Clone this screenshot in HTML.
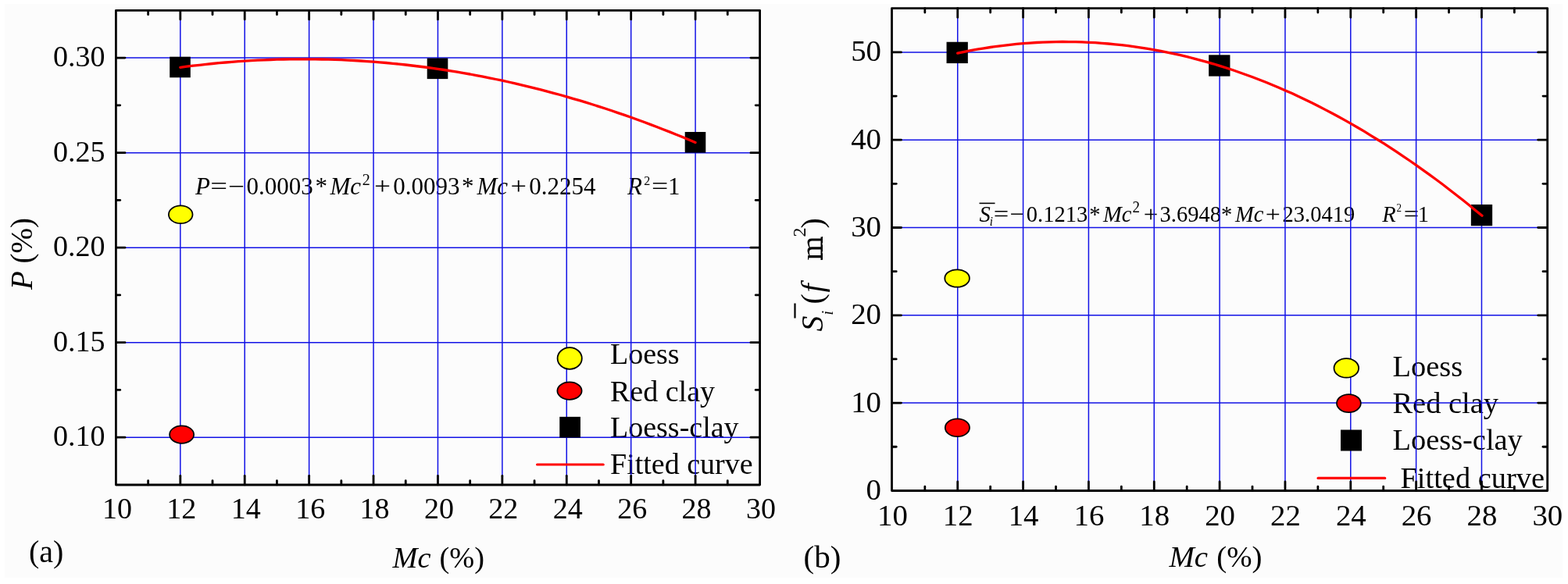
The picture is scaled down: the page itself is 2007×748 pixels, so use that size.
<!DOCTYPE html>
<html><head><meta charset="utf-8"><title>Mc vs P and Si</title>
<style>html,body{margin:0;padding:0;background:#fdfdfd;}svg{display:block;}</style></head>
<body><svg width="2007" height="748" viewBox="0 0 2007 748" font-family="'Liberation Serif','Times New Roman',serif" fill="#000">
<rect width="2007" height="748" fill="#ffffff"/>
<rect x="6" y="5" width="1994" height="735" fill="#fcfcfc"/>
<text x="249.90" y="249" font-size="31" font-style="italic">P</text>
<text x="269.21" y="249" font-size="31" textLength="21.79" lengthAdjust="spacingAndGlyphs">=</text>
<text x="292.00" y="249" font-size="31" textLength="20.98" lengthAdjust="spacingAndGlyphs">&#8722;</text>
<text x="315.40" y="249" font-size="31">0.0003</text>
<text x="403.40" y="249" font-size="31">*</text>
<text x="422.50" y="249" font-size="31" font-style="italic">Mc</text>
<text x="463.80" y="237" font-size="20">2</text>
<text x="479.10" y="249" font-size="31" textLength="20.98" lengthAdjust="spacingAndGlyphs">+</text>
<text x="503.30" y="249" font-size="31">0.0093</text>
<text x="590.90" y="249" font-size="31">*</text>
<text x="610.40" y="249" font-size="31" font-style="italic">Mc</text>
<text x="653.56" y="249" font-size="31" textLength="20.44" lengthAdjust="spacingAndGlyphs">+</text>
<text x="677.30" y="249" font-size="31">0.2254</text>
<text x="803.10" y="249" font-size="31" font-style="italic">R</text>
<text x="824.30" y="237" font-size="16">2</text>
<text x="834.07" y="249" font-size="31" textLength="21.25" lengthAdjust="spacingAndGlyphs">=</text>
<text x="854.90" y="249" font-size="31">1</text>
<text x="781" y="466.3" font-size="38">Loess</text>
<text x="781" y="513.9" font-size="38">Red clay</text>
<text x="781" y="560.2" font-size="38">Loess-clay</text>
<text x="781" y="607" font-size="38">Fitted curve</text>
<line x1="230.81" y1="13.34" x2="230.81" y2="620.96" stroke="#1212e6" stroke-width="1.5"/>
<line x1="313.22" y1="13.34" x2="313.22" y2="620.96" stroke="#1212e6" stroke-width="1.5"/>
<line x1="395.63" y1="13.34" x2="395.63" y2="620.96" stroke="#1212e6" stroke-width="1.5"/>
<line x1="478.04" y1="13.34" x2="478.04" y2="620.96" stroke="#1212e6" stroke-width="1.5"/>
<line x1="560.45" y1="13.34" x2="560.45" y2="620.96" stroke="#1212e6" stroke-width="1.5"/>
<line x1="642.86" y1="13.34" x2="642.86" y2="620.96" stroke="#1212e6" stroke-width="1.5"/>
<line x1="725.27" y1="13.34" x2="725.27" y2="620.96" stroke="#1212e6" stroke-width="1.5"/>
<line x1="807.68" y1="13.34" x2="807.68" y2="620.96" stroke="#1212e6" stroke-width="1.5"/>
<line x1="890.09" y1="13.34" x2="890.09" y2="620.96" stroke="#1212e6" stroke-width="1.5"/>
<line x1="148.4" y1="560.2" x2="972.5" y2="560.2" stroke="#1212e6" stroke-width="1.5"/>
<line x1="148.4" y1="438.67" x2="972.5" y2="438.67" stroke="#1212e6" stroke-width="1.5"/>
<line x1="148.4" y1="317.15" x2="972.5" y2="317.15" stroke="#1212e6" stroke-width="1.5"/>
<line x1="148.4" y1="195.63" x2="972.5" y2="195.63" stroke="#1212e6" stroke-width="1.5"/>
<line x1="148.4" y1="74.1" x2="972.5" y2="74.1" stroke="#1212e6" stroke-width="1.5"/>
<ellipse cx="231.2" cy="274.8" rx="15.3" ry="11.4" fill="#ffff00" stroke="#000" stroke-width="1.8"/>
<ellipse cx="232.6" cy="556.6" rx="15.5" ry="11.3" fill="#ff0000" stroke="#000" stroke-width="1.8"/>
<ellipse cx="729.2" cy="459" rx="15.6" ry="13.8" fill="#ffff00" stroke="#000" stroke-width="1.8"/>
<ellipse cx="729" cy="500.6" rx="15.6" ry="11.2" fill="#ff0000" stroke="#000" stroke-width="1.8"/>
<rect x="217.2" y="72.7" width="26.6" height="26.6" fill="#000"/>
<rect x="546.7" y="74.5" width="26.6" height="26.6" fill="#000"/>
<rect x="876.7" y="169" width="26.6" height="26.6" fill="#000"/>
<rect x="716.25" y="533.85" width="26.7" height="26.7" fill="#000"/>
<line x1="687.6" y1="595" x2="772.2" y2="595" stroke="#f00" stroke-width="3.2" stroke-linecap="round"/>
<polyline points="230.8,86.3 239.0,85.2 247.3,84.2 255.5,83.3 263.8,82.4 272.0,81.5 280.2,80.7 288.5,80.0 296.7,79.3 305.0,78.7 313.2,78.2 321.4,77.7 329.7,77.2 337.9,76.8 346.2,76.5 354.4,76.2 362.6,76.0 370.9,75.9 379.1,75.8 387.4,75.8 395.6,75.8 403.8,75.9 412.1,76.0 420.3,76.2 428.6,76.4 436.8,76.7 445.0,77.1 453.3,77.5 461.5,78.0 469.8,78.6 478.0,79.2 486.2,79.8 494.5,80.5 502.7,81.3 511.0,82.1 519.2,83.0 527.4,84.0 535.7,85.0 543.9,86.0 552.2,87.1 560.4,88.3 568.6,89.5 576.9,90.8 585.1,92.2 593.4,93.6 601.6,95.0 609.8,96.6 618.1,98.1 626.3,99.8 634.6,101.5 642.8,103.2 651.0,105.0 659.3,106.9 667.5,108.8 675.8,110.8 684.0,112.8 692.2,114.9 700.5,117.1 708.7,119.3 717.0,121.5 725.2,123.9 733.4,126.3 741.7,128.7 749.9,131.2 758.2,133.8 766.4,136.4 774.6,139.0 782.9,141.8 791.1,144.6 799.4,147.4 807.6,150.3 815.8,153.3 824.1,156.3 832.3,159.4 840.6,162.5 848.8,165.7 857.0,168.9 865.3,172.2 873.5,175.6 881.8,179.0 890.0,182.5" fill="none" stroke="#f00" stroke-width="3.3" stroke-linecap="round" stroke-linejoin="round"/>
<line x1="230.81" y1="620.96" x2="230.81" y2="609.36" stroke="#000" stroke-width="2.8" stroke-linecap="round"/>
<line x1="230.81" y1="13.34" x2="230.81" y2="24.94" stroke="#000" stroke-width="2.8" stroke-linecap="round"/>
<line x1="313.22" y1="620.96" x2="313.22" y2="609.36" stroke="#000" stroke-width="2.8" stroke-linecap="round"/>
<line x1="313.22" y1="13.34" x2="313.22" y2="24.94" stroke="#000" stroke-width="2.8" stroke-linecap="round"/>
<line x1="395.63" y1="620.96" x2="395.63" y2="609.36" stroke="#000" stroke-width="2.8" stroke-linecap="round"/>
<line x1="395.63" y1="13.34" x2="395.63" y2="24.94" stroke="#000" stroke-width="2.8" stroke-linecap="round"/>
<line x1="478.04" y1="620.96" x2="478.04" y2="609.36" stroke="#000" stroke-width="2.8" stroke-linecap="round"/>
<line x1="478.04" y1="13.34" x2="478.04" y2="24.94" stroke="#000" stroke-width="2.8" stroke-linecap="round"/>
<line x1="560.45" y1="620.96" x2="560.45" y2="609.36" stroke="#000" stroke-width="2.8" stroke-linecap="round"/>
<line x1="560.45" y1="13.34" x2="560.45" y2="24.94" stroke="#000" stroke-width="2.8" stroke-linecap="round"/>
<line x1="642.86" y1="620.96" x2="642.86" y2="609.36" stroke="#000" stroke-width="2.8" stroke-linecap="round"/>
<line x1="642.86" y1="13.34" x2="642.86" y2="24.94" stroke="#000" stroke-width="2.8" stroke-linecap="round"/>
<line x1="725.27" y1="620.96" x2="725.27" y2="609.36" stroke="#000" stroke-width="2.8" stroke-linecap="round"/>
<line x1="725.27" y1="13.34" x2="725.27" y2="24.94" stroke="#000" stroke-width="2.8" stroke-linecap="round"/>
<line x1="807.68" y1="620.96" x2="807.68" y2="609.36" stroke="#000" stroke-width="2.8" stroke-linecap="round"/>
<line x1="807.68" y1="13.34" x2="807.68" y2="24.94" stroke="#000" stroke-width="2.8" stroke-linecap="round"/>
<line x1="890.09" y1="620.96" x2="890.09" y2="609.36" stroke="#000" stroke-width="2.8" stroke-linecap="round"/>
<line x1="890.09" y1="13.34" x2="890.09" y2="24.94" stroke="#000" stroke-width="2.8" stroke-linecap="round"/>
<line x1="189.61" y1="620.96" x2="189.61" y2="615.66" stroke="#000" stroke-width="2.8" stroke-linecap="round"/>
<line x1="189.61" y1="13.34" x2="189.61" y2="18.64" stroke="#000" stroke-width="2.8" stroke-linecap="round"/>
<line x1="272.01" y1="620.96" x2="272.01" y2="615.66" stroke="#000" stroke-width="2.8" stroke-linecap="round"/>
<line x1="272.01" y1="13.34" x2="272.01" y2="18.64" stroke="#000" stroke-width="2.8" stroke-linecap="round"/>
<line x1="354.43" y1="620.96" x2="354.43" y2="615.66" stroke="#000" stroke-width="2.8" stroke-linecap="round"/>
<line x1="354.43" y1="13.34" x2="354.43" y2="18.64" stroke="#000" stroke-width="2.8" stroke-linecap="round"/>
<line x1="436.84" y1="620.96" x2="436.84" y2="615.66" stroke="#000" stroke-width="2.8" stroke-linecap="round"/>
<line x1="436.84" y1="13.34" x2="436.84" y2="18.64" stroke="#000" stroke-width="2.8" stroke-linecap="round"/>
<line x1="519.25" y1="620.96" x2="519.25" y2="615.66" stroke="#000" stroke-width="2.8" stroke-linecap="round"/>
<line x1="519.25" y1="13.34" x2="519.25" y2="18.64" stroke="#000" stroke-width="2.8" stroke-linecap="round"/>
<line x1="601.66" y1="620.96" x2="601.66" y2="615.66" stroke="#000" stroke-width="2.8" stroke-linecap="round"/>
<line x1="601.66" y1="13.34" x2="601.66" y2="18.64" stroke="#000" stroke-width="2.8" stroke-linecap="round"/>
<line x1="684.07" y1="620.96" x2="684.07" y2="615.66" stroke="#000" stroke-width="2.8" stroke-linecap="round"/>
<line x1="684.07" y1="13.34" x2="684.07" y2="18.64" stroke="#000" stroke-width="2.8" stroke-linecap="round"/>
<line x1="766.48" y1="620.96" x2="766.48" y2="615.66" stroke="#000" stroke-width="2.8" stroke-linecap="round"/>
<line x1="766.48" y1="13.34" x2="766.48" y2="18.64" stroke="#000" stroke-width="2.8" stroke-linecap="round"/>
<line x1="848.88" y1="620.96" x2="848.88" y2="615.66" stroke="#000" stroke-width="2.8" stroke-linecap="round"/>
<line x1="848.88" y1="13.34" x2="848.88" y2="18.64" stroke="#000" stroke-width="2.8" stroke-linecap="round"/>
<line x1="931.29" y1="620.96" x2="931.29" y2="615.66" stroke="#000" stroke-width="2.8" stroke-linecap="round"/>
<line x1="931.29" y1="13.34" x2="931.29" y2="18.64" stroke="#000" stroke-width="2.8" stroke-linecap="round"/>
<line x1="148.4" y1="560.2" x2="160" y2="560.2" stroke="#000" stroke-width="2.8" stroke-linecap="round"/>
<line x1="972.5" y1="560.2" x2="960.9" y2="560.2" stroke="#000" stroke-width="2.8" stroke-linecap="round"/>
<line x1="148.4" y1="438.67" x2="160" y2="438.67" stroke="#000" stroke-width="2.8" stroke-linecap="round"/>
<line x1="972.5" y1="438.67" x2="960.9" y2="438.67" stroke="#000" stroke-width="2.8" stroke-linecap="round"/>
<line x1="148.4" y1="317.15" x2="160" y2="317.15" stroke="#000" stroke-width="2.8" stroke-linecap="round"/>
<line x1="972.5" y1="317.15" x2="960.9" y2="317.15" stroke="#000" stroke-width="2.8" stroke-linecap="round"/>
<line x1="148.4" y1="195.63" x2="160" y2="195.63" stroke="#000" stroke-width="2.8" stroke-linecap="round"/>
<line x1="972.5" y1="195.63" x2="960.9" y2="195.63" stroke="#000" stroke-width="2.8" stroke-linecap="round"/>
<line x1="148.4" y1="74.1" x2="160" y2="74.1" stroke="#000" stroke-width="2.8" stroke-linecap="round"/>
<line x1="972.5" y1="74.1" x2="960.9" y2="74.1" stroke="#000" stroke-width="2.8" stroke-linecap="round"/>
<line x1="148.4" y1="499.44" x2="153.7" y2="499.44" stroke="#000" stroke-width="2.8" stroke-linecap="round"/>
<line x1="972.5" y1="499.44" x2="967.2" y2="499.44" stroke="#000" stroke-width="2.8" stroke-linecap="round"/>
<line x1="148.4" y1="377.91" x2="153.7" y2="377.91" stroke="#000" stroke-width="2.8" stroke-linecap="round"/>
<line x1="972.5" y1="377.91" x2="967.2" y2="377.91" stroke="#000" stroke-width="2.8" stroke-linecap="round"/>
<line x1="148.4" y1="256.39" x2="153.7" y2="256.39" stroke="#000" stroke-width="2.8" stroke-linecap="round"/>
<line x1="972.5" y1="256.39" x2="967.2" y2="256.39" stroke="#000" stroke-width="2.8" stroke-linecap="round"/>
<line x1="148.4" y1="134.86" x2="153.7" y2="134.86" stroke="#000" stroke-width="2.8" stroke-linecap="round"/>
<line x1="972.5" y1="134.86" x2="967.2" y2="134.86" stroke="#000" stroke-width="2.8" stroke-linecap="round"/>
<rect x="148.4" y="13.3" width="824.2" height="607.7" fill="none" stroke="#000" stroke-width="2.8" stroke-linejoin="round"/>
<text x="149.9" y="664" font-size="38" text-anchor="middle">10</text>
<text x="232.31" y="664" font-size="38" text-anchor="middle">12</text>
<text x="314.72" y="664" font-size="38" text-anchor="middle">14</text>
<text x="397.13" y="664" font-size="38" text-anchor="middle">16</text>
<text x="479.54" y="664" font-size="38" text-anchor="middle">18</text>
<text x="561.95" y="664" font-size="38" text-anchor="middle">20</text>
<text x="644.36" y="664" font-size="38" text-anchor="middle">22</text>
<text x="726.77" y="664" font-size="38" text-anchor="middle">24</text>
<text x="809.18" y="664" font-size="38" text-anchor="middle">26</text>
<text x="891.59" y="664" font-size="38" text-anchor="middle">28</text>
<text x="974" y="664" font-size="38" text-anchor="middle">30</text>
<text x="134.5" y="571.2" font-size="38" text-anchor="end">0.10</text>
<text x="134.5" y="449.67" font-size="38" text-anchor="end">0.15</text>
<text x="134.5" y="328.15" font-size="38" text-anchor="end">0.20</text>
<text x="134.5" y="206.63" font-size="38" text-anchor="end">0.25</text>
<text x="134.5" y="85.1" font-size="38" text-anchor="end">0.30</text>
<text transform="translate(41,371) rotate(-90)" font-size="39"><tspan font-style="italic">P</tspan> (%)</text>
<text x="502.5" y="726.5" font-size="38.3"><tspan font-style="italic">Mc</tspan><tspan dx="1.5"> (%)</tspan></text>
<text x="37" y="720" font-size="40">(a)</text>
<g transform="translate(0,284) scale(1,1.05) translate(0,-284)"><line x1="1253.5" y1="261.5" x2="1273.5" y2="261.5" stroke="#000" stroke-width="1.5"/>
<text x="1253.50" y="284" font-size="28.5" font-style="italic">S</text>
<text x="1266.80" y="289" font-size="15" font-style="italic">i</text>
<text x="1271.87" y="284" font-size="28.5" textLength="19.50" lengthAdjust="spacingAndGlyphs">=</text>
<text x="1292.72" y="284" font-size="28.5" textLength="18.16" lengthAdjust="spacingAndGlyphs">&#8722;</text>
<text x="1313.80" y="284" font-size="28.5">0.1213</text>
<text x="1394.20" y="284" font-size="28.5">*</text>
<text x="1412.10" y="284" font-size="28.5" font-style="italic">Mc</text>
<text x="1449.40" y="273" font-size="19">2</text>
<text x="1463.78" y="284" font-size="28.5" textLength="18.56" lengthAdjust="spacingAndGlyphs">+</text>
<text x="1484.60" y="284" font-size="28.5">3.6948</text>
<text x="1562.90" y="284" font-size="28.5">*</text>
<text x="1580.90" y="284" font-size="28.5" font-style="italic">Mc</text>
<text x="1619.72" y="284" font-size="28.5" textLength="19.10" lengthAdjust="spacingAndGlyphs">+</text>
<text x="1641.60" y="284" font-size="28.5">23.0419</text>
<text x="1769.20" y="284" font-size="28.5" font-style="italic">R</text>
<text x="1787.50" y="271.5" font-size="13">2</text>
<text x="1796.77" y="284" font-size="28.5" textLength="19.50" lengthAdjust="spacingAndGlyphs">=</text>
<text x="1814.80" y="284" font-size="28.5">1</text></g>
<text x="1782.5" y="482" font-size="38.4">Loess</text>
<text x="1782.5" y="529" font-size="38.4">Red clay</text>
<text x="1782.5" y="576.4" font-size="38.4">Loess-clay</text>
<text x="1792.5" y="624.5" font-size="38.4">Fitted curve</text>
<line x1="1225.74" y1="10.75" x2="1225.74" y2="628.4" stroke="#1212e6" stroke-width="1.5"/>
<line x1="1309.58" y1="10.75" x2="1309.58" y2="628.4" stroke="#1212e6" stroke-width="1.5"/>
<line x1="1393.42" y1="10.75" x2="1393.42" y2="628.4" stroke="#1212e6" stroke-width="1.5"/>
<line x1="1477.26" y1="10.75" x2="1477.26" y2="628.4" stroke="#1212e6" stroke-width="1.5"/>
<line x1="1561.1" y1="10.75" x2="1561.1" y2="628.4" stroke="#1212e6" stroke-width="1.5"/>
<line x1="1644.94" y1="10.75" x2="1644.94" y2="628.4" stroke="#1212e6" stroke-width="1.5"/>
<line x1="1728.78" y1="10.75" x2="1728.78" y2="628.4" stroke="#1212e6" stroke-width="1.5"/>
<line x1="1812.62" y1="10.75" x2="1812.62" y2="628.4" stroke="#1212e6" stroke-width="1.5"/>
<line x1="1896.46" y1="10.75" x2="1896.46" y2="628.4" stroke="#1212e6" stroke-width="1.5"/>
<line x1="1141.9" y1="516.1" x2="1980.3" y2="516.1" stroke="#1212e6" stroke-width="1.5"/>
<line x1="1141.9" y1="403.8" x2="1980.3" y2="403.8" stroke="#1212e6" stroke-width="1.5"/>
<line x1="1141.9" y1="291.5" x2="1980.3" y2="291.5" stroke="#1212e6" stroke-width="1.5"/>
<line x1="1141.9" y1="179.2" x2="1980.3" y2="179.2" stroke="#1212e6" stroke-width="1.5"/>
<line x1="1141.9" y1="66.9" x2="1980.3" y2="66.9" stroke="#1212e6" stroke-width="1.5"/>
<ellipse cx="1225.1" cy="356.5" rx="15.8" ry="11.2" fill="#ffff00" stroke="#000" stroke-width="1.8"/>
<ellipse cx="1225.4" cy="547.8" rx="15.6" ry="11.4" fill="#ff0000" stroke="#000" stroke-width="1.8"/>
<ellipse cx="1723.3" cy="471.4" rx="15.8" ry="12.3" fill="#ffff00" stroke="#000" stroke-width="1.8"/>
<ellipse cx="1726.4" cy="516.6" rx="15.4" ry="11.5" fill="#ff0000" stroke="#000" stroke-width="1.8"/>
<rect x="1211.55" y="53.75" width="27.3" height="27.3" fill="#000"/>
<rect x="1547.15" y="70.35" width="27.3" height="27.3" fill="#000"/>
<rect x="1882.85" y="261.95" width="27.3" height="27.3" fill="#000"/>
<rect x="1716" y="550.5" width="27" height="27" fill="#000"/>
<line x1="1687.1" y1="612.4" x2="1772.7" y2="612.4" stroke="#f00" stroke-width="3.2" stroke-linecap="round"/>
<polyline points="1225.7,68.1 1234.1,66.4 1242.5,64.7 1250.9,63.2 1259.3,61.8 1267.7,60.5 1276.0,59.3 1284.4,58.3 1292.8,57.3 1301.2,56.4 1309.6,55.7 1318.0,55.1 1326.4,54.5 1334.8,54.1 1343.2,53.8 1351.6,53.6 1360.0,53.5 1368.4,53.6 1376.7,53.7 1385.1,53.9 1393.5,54.3 1401.9,54.7 1410.3,55.3 1418.7,56.0 1427.1,56.8 1435.5,57.7 1443.9,58.7 1452.3,59.8 1460.7,61.1 1469.0,62.4 1477.4,63.8 1485.8,65.4 1494.2,67.1 1502.6,68.8 1511.0,70.7 1519.4,72.7 1527.8,74.8 1536.2,77.1 1544.6,79.4 1553.0,81.8 1561.3,84.4 1569.7,87.0 1578.1,89.8 1586.5,92.7 1594.9,95.7 1603.3,98.8 1611.7,102.0 1620.1,105.3 1628.5,108.7 1636.9,112.2 1645.3,115.9 1653.7,119.6 1662.0,123.5 1670.4,127.5 1678.8,131.6 1687.2,135.8 1695.6,140.1 1704.0,144.5 1712.4,149.0 1720.8,153.6 1729.2,158.4 1737.6,163.2 1746.0,168.2 1754.3,173.3 1762.7,178.5 1771.1,183.7 1779.5,189.1 1787.9,194.7 1796.3,200.3 1804.7,206.0 1813.1,211.9 1821.5,217.8 1829.9,223.9 1838.3,230.0 1846.7,236.3 1855.0,242.7 1863.4,249.2 1871.8,255.8 1880.2,262.5 1888.6,269.4 1897.0,276.3" fill="none" stroke="#f00" stroke-width="3.3" stroke-linecap="round" stroke-linejoin="round"/>
<line x1="1225.74" y1="628.4" x2="1225.74" y2="616.8" stroke="#000" stroke-width="2.8" stroke-linecap="round"/>
<line x1="1225.74" y1="10.75" x2="1225.74" y2="22.35" stroke="#000" stroke-width="2.8" stroke-linecap="round"/>
<line x1="1309.58" y1="628.4" x2="1309.58" y2="616.8" stroke="#000" stroke-width="2.8" stroke-linecap="round"/>
<line x1="1309.58" y1="10.75" x2="1309.58" y2="22.35" stroke="#000" stroke-width="2.8" stroke-linecap="round"/>
<line x1="1393.42" y1="628.4" x2="1393.42" y2="616.8" stroke="#000" stroke-width="2.8" stroke-linecap="round"/>
<line x1="1393.42" y1="10.75" x2="1393.42" y2="22.35" stroke="#000" stroke-width="2.8" stroke-linecap="round"/>
<line x1="1477.26" y1="628.4" x2="1477.26" y2="616.8" stroke="#000" stroke-width="2.8" stroke-linecap="round"/>
<line x1="1477.26" y1="10.75" x2="1477.26" y2="22.35" stroke="#000" stroke-width="2.8" stroke-linecap="round"/>
<line x1="1561.1" y1="628.4" x2="1561.1" y2="616.8" stroke="#000" stroke-width="2.8" stroke-linecap="round"/>
<line x1="1561.1" y1="10.75" x2="1561.1" y2="22.35" stroke="#000" stroke-width="2.8" stroke-linecap="round"/>
<line x1="1644.94" y1="628.4" x2="1644.94" y2="616.8" stroke="#000" stroke-width="2.8" stroke-linecap="round"/>
<line x1="1644.94" y1="10.75" x2="1644.94" y2="22.35" stroke="#000" stroke-width="2.8" stroke-linecap="round"/>
<line x1="1728.78" y1="628.4" x2="1728.78" y2="616.8" stroke="#000" stroke-width="2.8" stroke-linecap="round"/>
<line x1="1728.78" y1="10.75" x2="1728.78" y2="22.35" stroke="#000" stroke-width="2.8" stroke-linecap="round"/>
<line x1="1812.62" y1="628.4" x2="1812.62" y2="616.8" stroke="#000" stroke-width="2.8" stroke-linecap="round"/>
<line x1="1812.62" y1="10.75" x2="1812.62" y2="22.35" stroke="#000" stroke-width="2.8" stroke-linecap="round"/>
<line x1="1896.46" y1="628.4" x2="1896.46" y2="616.8" stroke="#000" stroke-width="2.8" stroke-linecap="round"/>
<line x1="1896.46" y1="10.75" x2="1896.46" y2="22.35" stroke="#000" stroke-width="2.8" stroke-linecap="round"/>
<line x1="1183.82" y1="628.4" x2="1183.82" y2="623.1" stroke="#000" stroke-width="2.8" stroke-linecap="round"/>
<line x1="1183.82" y1="10.75" x2="1183.82" y2="16.05" stroke="#000" stroke-width="2.8" stroke-linecap="round"/>
<line x1="1267.66" y1="628.4" x2="1267.66" y2="623.1" stroke="#000" stroke-width="2.8" stroke-linecap="round"/>
<line x1="1267.66" y1="10.75" x2="1267.66" y2="16.05" stroke="#000" stroke-width="2.8" stroke-linecap="round"/>
<line x1="1351.5" y1="628.4" x2="1351.5" y2="623.1" stroke="#000" stroke-width="2.8" stroke-linecap="round"/>
<line x1="1351.5" y1="10.75" x2="1351.5" y2="16.05" stroke="#000" stroke-width="2.8" stroke-linecap="round"/>
<line x1="1435.34" y1="628.4" x2="1435.34" y2="623.1" stroke="#000" stroke-width="2.8" stroke-linecap="round"/>
<line x1="1435.34" y1="10.75" x2="1435.34" y2="16.05" stroke="#000" stroke-width="2.8" stroke-linecap="round"/>
<line x1="1519.18" y1="628.4" x2="1519.18" y2="623.1" stroke="#000" stroke-width="2.8" stroke-linecap="round"/>
<line x1="1519.18" y1="10.75" x2="1519.18" y2="16.05" stroke="#000" stroke-width="2.8" stroke-linecap="round"/>
<line x1="1603.02" y1="628.4" x2="1603.02" y2="623.1" stroke="#000" stroke-width="2.8" stroke-linecap="round"/>
<line x1="1603.02" y1="10.75" x2="1603.02" y2="16.05" stroke="#000" stroke-width="2.8" stroke-linecap="round"/>
<line x1="1686.86" y1="628.4" x2="1686.86" y2="623.1" stroke="#000" stroke-width="2.8" stroke-linecap="round"/>
<line x1="1686.86" y1="10.75" x2="1686.86" y2="16.05" stroke="#000" stroke-width="2.8" stroke-linecap="round"/>
<line x1="1770.7" y1="628.4" x2="1770.7" y2="623.1" stroke="#000" stroke-width="2.8" stroke-linecap="round"/>
<line x1="1770.7" y1="10.75" x2="1770.7" y2="16.05" stroke="#000" stroke-width="2.8" stroke-linecap="round"/>
<line x1="1854.54" y1="628.4" x2="1854.54" y2="623.1" stroke="#000" stroke-width="2.8" stroke-linecap="round"/>
<line x1="1854.54" y1="10.75" x2="1854.54" y2="16.05" stroke="#000" stroke-width="2.8" stroke-linecap="round"/>
<line x1="1938.38" y1="628.4" x2="1938.38" y2="623.1" stroke="#000" stroke-width="2.8" stroke-linecap="round"/>
<line x1="1938.38" y1="10.75" x2="1938.38" y2="16.05" stroke="#000" stroke-width="2.8" stroke-linecap="round"/>
<line x1="1141.9" y1="516.1" x2="1153.5" y2="516.1" stroke="#000" stroke-width="2.8" stroke-linecap="round"/>
<line x1="1980.3" y1="516.1" x2="1968.7" y2="516.1" stroke="#000" stroke-width="2.8" stroke-linecap="round"/>
<line x1="1141.9" y1="403.8" x2="1153.5" y2="403.8" stroke="#000" stroke-width="2.8" stroke-linecap="round"/>
<line x1="1980.3" y1="403.8" x2="1968.7" y2="403.8" stroke="#000" stroke-width="2.8" stroke-linecap="round"/>
<line x1="1141.9" y1="291.5" x2="1153.5" y2="291.5" stroke="#000" stroke-width="2.8" stroke-linecap="round"/>
<line x1="1980.3" y1="291.5" x2="1968.7" y2="291.5" stroke="#000" stroke-width="2.8" stroke-linecap="round"/>
<line x1="1141.9" y1="179.2" x2="1153.5" y2="179.2" stroke="#000" stroke-width="2.8" stroke-linecap="round"/>
<line x1="1980.3" y1="179.2" x2="1968.7" y2="179.2" stroke="#000" stroke-width="2.8" stroke-linecap="round"/>
<line x1="1141.9" y1="66.9" x2="1153.5" y2="66.9" stroke="#000" stroke-width="2.8" stroke-linecap="round"/>
<line x1="1980.3" y1="66.9" x2="1968.7" y2="66.9" stroke="#000" stroke-width="2.8" stroke-linecap="round"/>
<line x1="1141.9" y1="572.25" x2="1147.2" y2="572.25" stroke="#000" stroke-width="2.8" stroke-linecap="round"/>
<line x1="1980.3" y1="572.25" x2="1975" y2="572.25" stroke="#000" stroke-width="2.8" stroke-linecap="round"/>
<line x1="1141.9" y1="459.95" x2="1147.2" y2="459.95" stroke="#000" stroke-width="2.8" stroke-linecap="round"/>
<line x1="1980.3" y1="459.95" x2="1975" y2="459.95" stroke="#000" stroke-width="2.8" stroke-linecap="round"/>
<line x1="1141.9" y1="347.65" x2="1147.2" y2="347.65" stroke="#000" stroke-width="2.8" stroke-linecap="round"/>
<line x1="1980.3" y1="347.65" x2="1975" y2="347.65" stroke="#000" stroke-width="2.8" stroke-linecap="round"/>
<line x1="1141.9" y1="235.35" x2="1147.2" y2="235.35" stroke="#000" stroke-width="2.8" stroke-linecap="round"/>
<line x1="1980.3" y1="235.35" x2="1975" y2="235.35" stroke="#000" stroke-width="2.8" stroke-linecap="round"/>
<line x1="1141.9" y1="123.05" x2="1147.2" y2="123.05" stroke="#000" stroke-width="2.8" stroke-linecap="round"/>
<line x1="1980.3" y1="123.05" x2="1975" y2="123.05" stroke="#000" stroke-width="2.8" stroke-linecap="round"/>
<rect x="1141.5" y="10.6" width="839.2" height="617.9" fill="none" stroke="#000" stroke-width="2.8" stroke-linejoin="round"/>
<text x="1142.4" y="672.5" font-size="38.8" text-anchor="middle">10</text>
<text x="1226.24" y="672.5" font-size="38.8" text-anchor="middle">12</text>
<text x="1310.08" y="672.5" font-size="38.8" text-anchor="middle">14</text>
<text x="1393.92" y="672.5" font-size="38.8" text-anchor="middle">16</text>
<text x="1477.76" y="672.5" font-size="38.8" text-anchor="middle">18</text>
<text x="1561.6" y="672.5" font-size="38.8" text-anchor="middle">20</text>
<text x="1645.44" y="672.5" font-size="38.8" text-anchor="middle">22</text>
<text x="1729.28" y="672.5" font-size="38.8" text-anchor="middle">24</text>
<text x="1813.12" y="672.5" font-size="38.8" text-anchor="middle">26</text>
<text x="1896.96" y="672.5" font-size="38.8" text-anchor="middle">28</text>
<text x="1980.8" y="672.5" font-size="38.8" text-anchor="middle">30</text>
<text x="1128" y="639.8" font-size="38.8" text-anchor="end">0</text>
<text x="1128" y="527.5" font-size="38.8" text-anchor="end">10</text>
<text x="1128" y="415.2" font-size="38.8" text-anchor="end">20</text>
<text x="1128" y="302.9" font-size="38.8" text-anchor="end">30</text>
<text x="1128" y="190.6" font-size="38.8" text-anchor="end">40</text>
<text x="1128" y="78.3" font-size="38.8" text-anchor="end">50</text>
<g transform="translate(1052.5,424.5) rotate(-90)" font-size="40">
<line x1="17" y1="-35" x2="36" y2="-35" stroke="#000" stroke-width="2.2"/>
<text x="0" y="0" font-style="italic">S</text>
<text x="21" y="13" font-size="20" font-style="italic">i</text>
<text x="35" y="0">(</text>
<text x="50" y="0" font-style="italic">f</text>
<text x="91" y="0">m</text>
<line x1="91.5" y1="-1" x2="121" y2="-1" stroke="#000" stroke-width="2"/>
<text x="121" y="-22" font-size="24">2</text>
<text x="132" y="0">)</text>
</g>
<text x="1496.5" y="726" font-size="38.8"><tspan font-style="italic">Mc</tspan><tspan dx="1.5"> (%)</tspan></text>
<text x="1028.5" y="727" font-size="41">(b)</text>
</svg></body></html>
